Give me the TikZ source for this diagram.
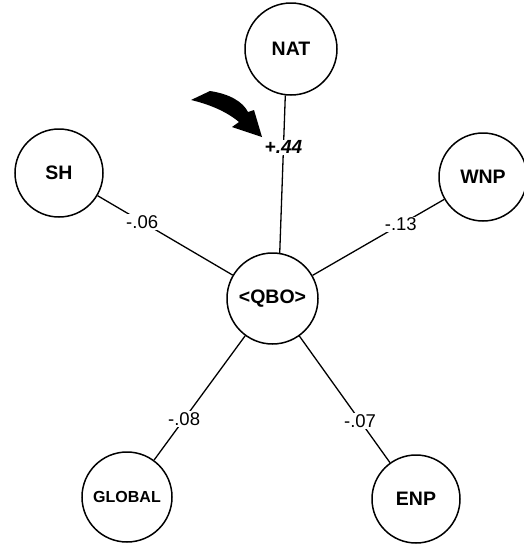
\documentclass[tikz,border=0pt]{standalone}
\usepackage{fontspec}
\setmainfont{Liberation Sans}
\begin{document}
\begin{tikzpicture}[x=1pt,y=-1pt,
  var/.style={draw, circle, line width=1.5pt, inner sep=0pt, fill=white,
    font=\fontsize{19.5}{20}\selectfont\bfseries},
  link/.style={line width=1.3pt},
  coef/.style={fill=white, inner sep=1.2pt, pos=0.33,
    font=\fontsize{18.5}{19}\selectfont}]
  \useasboundingbox (0,0) rectangle (523,544);

  % variables
  \node[var, minimum size=92pt] (nat) at (291,49) {NAT};
  \node[var, minimum size=88pt] (sh) at (59,173) {SH};
  \node[var, minimum size=88pt] (wnp) at (483,177) {WNP};
  \node[var, minimum size=91pt] (qbo) at (272.5,298.5) {<QBO>};
  \node[var, minimum size=90pt, font=\fontsize{16}{17}\selectfont\bfseries] (global) at (127,497) {GLOBAL};
  \node[var, minimum size=88pt] (enp) at (416,499) {ENP};

  % correlations with the central index
  \draw[link] (nat.263) -- node[coef, font=\fontsize{19}{20}\selectfont\bfseries\itshape] (cnat) {+.44} (qbo.81);
  \draw[link] (sh) -- node[coef] (csh) {-.06} (qbo);
  \draw[link] (wnp) -- node[coef] (cwnp) {-.13} (qbo);
  \draw[link] (global) -- node[coef] (cglobal) {-.08} (qbo);
  \draw[link] (enp) -- node[coef] (cenp) {-.07} (qbo);

  % pointer arrow highlighting the strongest coefficient
  \fill (191,100) -- (210,91) .. controls (230,94) and (243,102) .. (248,112)
    -- (254,110) -- (262,137) -- (232,127) -- (239,122)
    .. controls (226,111) and (208,104) .. (191,100) -- cycle;
\end{tikzpicture}
\end{document}
